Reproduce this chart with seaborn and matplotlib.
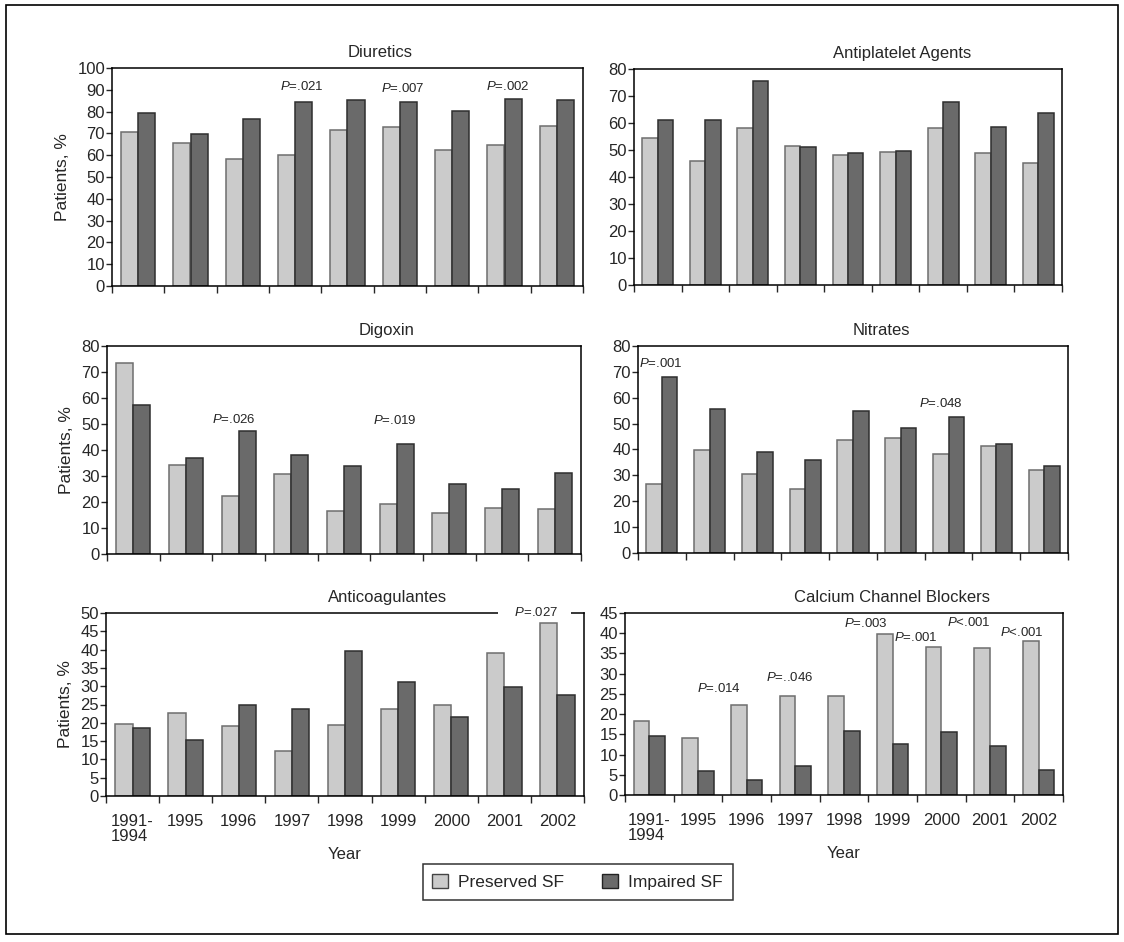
import numpy as np
import pandas as pd
import matplotlib
matplotlib.use('Agg')
import matplotlib.pyplot as plt
import seaborn as sns
from matplotlib.patches import Patch, Rectangle

# ---- data ----
years = ['1991-\n1994', '1995', '1996', '1997', '1998', '1999', '2000', '2001', '2002']
groups = ['Preserved SF', 'Impaired SF']

diuretics_preserved = [70.7, 65.7, 58.4, 60.1, 71.4, 73.1, 62.5, 64.9, 73.6]
diuretics_impaired = [79.3, 69.9, 76.6, 84.5, 85.1, 84.5, 80.2, 85.9, 85.3]

antiplatelet_preserved = [54.4, 45.8, 58.0, 51.5, 48.1, 49.3, 58.0, 48.9, 45.2]
antiplatelet_impaired = [61.2, 61.2, 75.4, 51.2, 49.0, 49.6, 67.9, 58.5, 63.6]

digoxin_preserved = [73.4, 34.4, 22.3, 30.7, 16.7, 19.1, 15.6, 17.7, 17.2]
digoxin_impaired = [57.4, 36.8, 47.2, 37.9, 33.8, 42.4, 26.8, 24.9, 31.3]

nitrates_preserved = [26.6, 39.7, 30.4, 24.6, 43.5, 44.4, 38.1, 41.2, 32.2]
nitrates_impaired = [67.9, 55.7, 39.0, 36.1, 55.0, 48.2, 52.5, 42.1, 33.8]

anticoag_preserved = [19.8, 22.8, 19.0, 12.2, 19.4, 23.7, 24.8, 39.0, 47.3]
anticoag_impaired = [18.6, 15.4, 24.8, 23.9, 39.6, 31.2, 21.5, 29.9, 27.6]

ccb_preserved = [18.3, 14.2, 22.2, 24.4, 24.4, 39.7, 36.6, 36.4, 38.2]
ccb_impaired = [14.5, 6.0, 3.7, 7.1, 15.9, 12.7, 15.7, 12.0, 6.2]

# p-value notes: (label, x in category units, y in data units)
diuretics_notes = [('=.021', 3.13, 91.7), ('=.007', 5.06, 90.4), ('=.002', 7.07, 91.7)]
antiplatelet_notes = []
digoxin_notes = [('=.026', 1.91, 51.9), ('=.019', 4.96, 51.3)]
nitrates_notes = [('=.001', -0.02, 73.4), ('=.048', 5.83, 57.9)]
anticoag_notes = [('=.027', 7.57, 50.0)]
ccb_notes = [('=.014', 1.44, 26.4), ('=..046', 2.89, 29.1), ('=.003', 4.45, 42.4),
             ('=.001', 5.48, 39.0), ('<.001', 6.57, 42.6), ('<.001', 7.65, 40.1)]

W, H = 1124, 942
FONT = ['Liberation Sans', 'DejaVu Sans']
LIGHT = '#cbcbcb'
DARK = '#6a6a6a'

sns.set_style('white')
plt.rcParams['font.family'] = FONT
plt.rcParams['mathtext.fontset'] = 'custom'
plt.rcParams['mathtext.it'] = 'Liberation Sans:italic'
plt.rcParams['mathtext.rm'] = 'Liberation Sans'


def make_df(preserved, impaired):
    rows = []
    for i, year in enumerate(years):
        rows.append({'Year': year, 'Group': groups[0], 'Pct': preserved[i]})
        rows.append({'Year': year, 'Group': groups[1], 'Pct': impaired[i]})
    return pd.DataFrame(rows)


def px_rect(x0, y0, x1, y1):
    return [x0 / W, 1 - y1 / H, (x1 - x0) / W, (y1 - y0) / H]


panels = [
    dict(title='Diuretics', pres=diuretics_preserved, imp=diuretics_impaired, ymax=100, step=10,
         rect=px_rect(112, 68, 583, 286), tx=0.569, notes=diuretics_notes, ylab=True, xlab=False),
    dict(title='Antiplatelet Agents', pres=antiplatelet_preserved, imp=antiplatelet_impaired, ymax=80, step=10,
         rect=px_rect(634, 69, 1062, 285), tx=0.626, notes=antiplatelet_notes, ylab=False, xlab=False),
    dict(title='Digoxin', pres=digoxin_preserved, imp=digoxin_impaired, ymax=80, step=10,
         rect=px_rect(107, 346, 581, 554), tx=0.589, notes=digoxin_notes, ylab=True, xlab=False),
    dict(title='Nitrates', pres=nitrates_preserved, imp=nitrates_impaired, ymax=80, step=10,
         rect=px_rect(638, 346, 1068, 553), tx=0.567, notes=nitrates_notes, ylab=False, xlab=False),
    dict(title='Anticoagulantes', pres=anticoag_preserved, imp=anticoag_impaired, ymax=50, step=5,
         rect=px_rect(106, 613, 584, 796), tx=0.588, notes=anticoag_notes, ylab=True, xlab=True),
    dict(title='Calcium Channel Blockers', pres=ccb_preserved, imp=ccb_impaired, ymax=45, step=5,
         rect=px_rect(625, 613, 1063, 795), tx=0.61, notes=ccb_notes, ylab=False, xlab=True),
]

fig = plt.figure(figsize=(W / 100, H / 100), dpi=100)

for p in panels:
    ax = fig.add_axes(p['rect'])
    df = make_df(p['pres'], p['imp'])
    sns.barplot(data=df, x='Year', y='Pct', hue='Group', hue_order=groups,
                palette=[LIGHT, DARK], saturation=1, width=0.65, gap=0,
                errorbar=None, linewidth=1.1, legend=False, ax=ax)
    for bar in ax.containers[0]:
        bar.set_edgecolor('#6e6e6e')
    for bar in ax.containers[1]:
        bar.set_edgecolor('#2e2e2e')

    ax.set_xlim(-0.5, len(years) - 0.5)
    ax.set_ylim(0, p['ymax'])
    ax.set_yticks(np.arange(0, p['ymax'] + 1, p['step']))
    ax.set_xticks(np.arange(-0.5, len(years), 1.0), labels=[''] * (len(years) + 1))
    ax.set_xticks(np.arange(len(years)), minor=True)
    if p['xlab']:
        ax.set_xticklabels(years, minor=True, fontsize=12, linespacing=1.0,
                           multialignment='left')
        ax.set_xlabel('Year', fontsize=12, labelpad=2)
    else:
        ax.set_xticklabels([''] * len(years), minor=True)
        ax.set_xlabel('')
    ax.tick_params(axis='x', which='major', direction='out', length=5, width=1, bottom=True)
    ax.tick_params(axis='x', which='minor', length=0, pad=13)
    ax.tick_params(axis='y', direction='out', length=4, width=1, left=True, labelsize=12, pad=1)

    if p['ylab']:
        ax.set_ylabel('Patients, %', fontsize=12.5, labelpad=5)
    else:
        ax.set_ylabel('')

    for side in ['top', 'bottom', 'left', 'right']:
        ax.spines[side].set_visible(True)
        ax.spines[side].set_color('black')
        ax.spines[side].set_linewidth(1.1)

    ax.set_title(p['title'], fontsize=12, x=p['tx'], pad=8)

    for label, x, y in p['notes']:
        txt = r'$\it{P}$' + label
        if y >= p['ymax']:
            ax.text(x, y, '    ' + txt + '    ', ha='center', va='center', fontsize=9.5,
                    zorder=5, clip_on=False,
                    bbox=dict(facecolor='white', edgecolor='none', pad=1))
        else:
            ax.text(x, y, txt, ha='center', va='center', fontsize=9.5, zorder=5)

handles = [Patch(facecolor=LIGHT, edgecolor='#444444', label=groups[0]),
           Patch(facecolor=DARK, edgecolor='#222222', label=groups[1])]
leg = fig.legend(handles=handles, loc='center', bbox_to_anchor=(577.5 / W, 1 - 882 / H), ncol=2,
                 fontsize=12.5, frameon=True, fancybox=False, edgecolor='black',
                 handlelength=0.9, handleheight=0.9, columnspacing=2.2, handletextpad=0.6,
                 borderpad=0.55, borderaxespad=0)
leg.get_frame().set_linewidth(1.1)

fig.add_artist(Rectangle((6 / W, 1 - 934 / H), (1118 - 6) / W, (934 - 5) / H,
                         transform=fig.transFigure, fill=False, edgecolor='black', linewidth=1.2))

fig.savefig('out.png', dpi=100, facecolor='white')
